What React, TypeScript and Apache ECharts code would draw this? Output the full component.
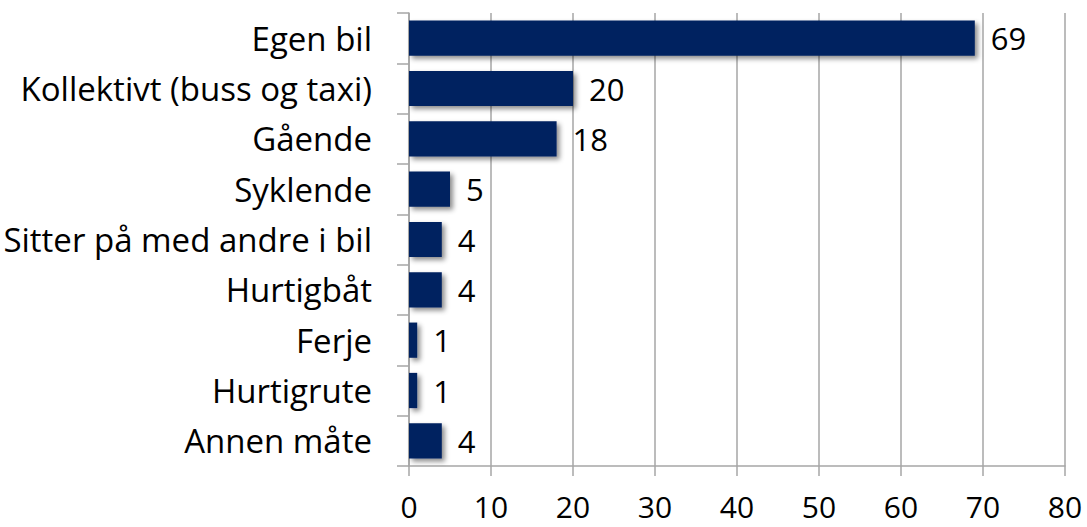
import React, { useEffect, useRef } from "react";
import * as echarts from "echarts";

const categories = [
  "Egen bil",
  "Kollektivt (buss og taxi)",
  "Gående",
  "Syklende",
  "Sitter på med andre i bil",
  "Hurtigbåt",
  "Ferje",
  "Hurtigrute",
  "Annen måte",
];
const values = [69, 20, 18, 5, 4, 4, 1, 1, 4];
const xMin = 0;
const xMax = 80;
const xStep = 10;

const FONT = "'Open Sans', 'Noto Sans', sans-serif";

export default function App() {
  const ref = useRef<HTMLDivElement>(null);
  useEffect(() => {
    document.body.style.margin = "0";
    const chart = echarts.init(ref.current!, null, { renderer: "svg" });
    chart.setOption({
      animation: false,
      backgroundColor: "#ffffff",
      grid: { left: 409, right: 22, top: 13, bottom: 61, containLabel: false },
      xAxis: {
        type: "value",
        min: xMin,
        max: xMax,
        interval: xStep,
        axisLine: { show: true, lineStyle: { color: "#a6a6a6", width: 1.5 } },
        axisTick: { show: true, length: 10, lineStyle: { color: "#a6a6a6", width: 1.5 } },
        splitLine: { show: true, lineStyle: { color: "#a6a6a6", width: 1.5 } },
        axisLabel: { fontSize: 30, lineHeight: 30, color: "#000", fontFamily: FONT, margin: 25 },
      },
      yAxis: {
        type: "category",
        data: categories,
        inverse: true,
        axisLine: { show: true, lineStyle: { color: "#a6a6a6", width: 1.5 } },
        axisTick: { show: true, length: 12, lineStyle: { color: "#a6a6a6", width: 1.5 } },
        axisLabel: { fontSize: 33, color: "#000", fontFamily: FONT, margin: 37 },
      },
      series: [
        {
          type: "bar",
          data: values,
          barCategoryGap: "30%",
          itemStyle: {
            color: "#002060",
            shadowColor: "rgba(0,0,0,0.45)",
            shadowBlur: 5,
            shadowOffsetX: 3,
            shadowOffsetY: 3,
          },
          label: {
            show: true,
            position: "right",
            distance: 16,
            fontSize: 31,
            color: "#000",
            fontFamily: FONT,
          },
        },
      ],
    });
    return () => chart.dispose();
  }, []);
  return <div ref={ref} style={{ width: 1087, height: 527 }} />;
}
